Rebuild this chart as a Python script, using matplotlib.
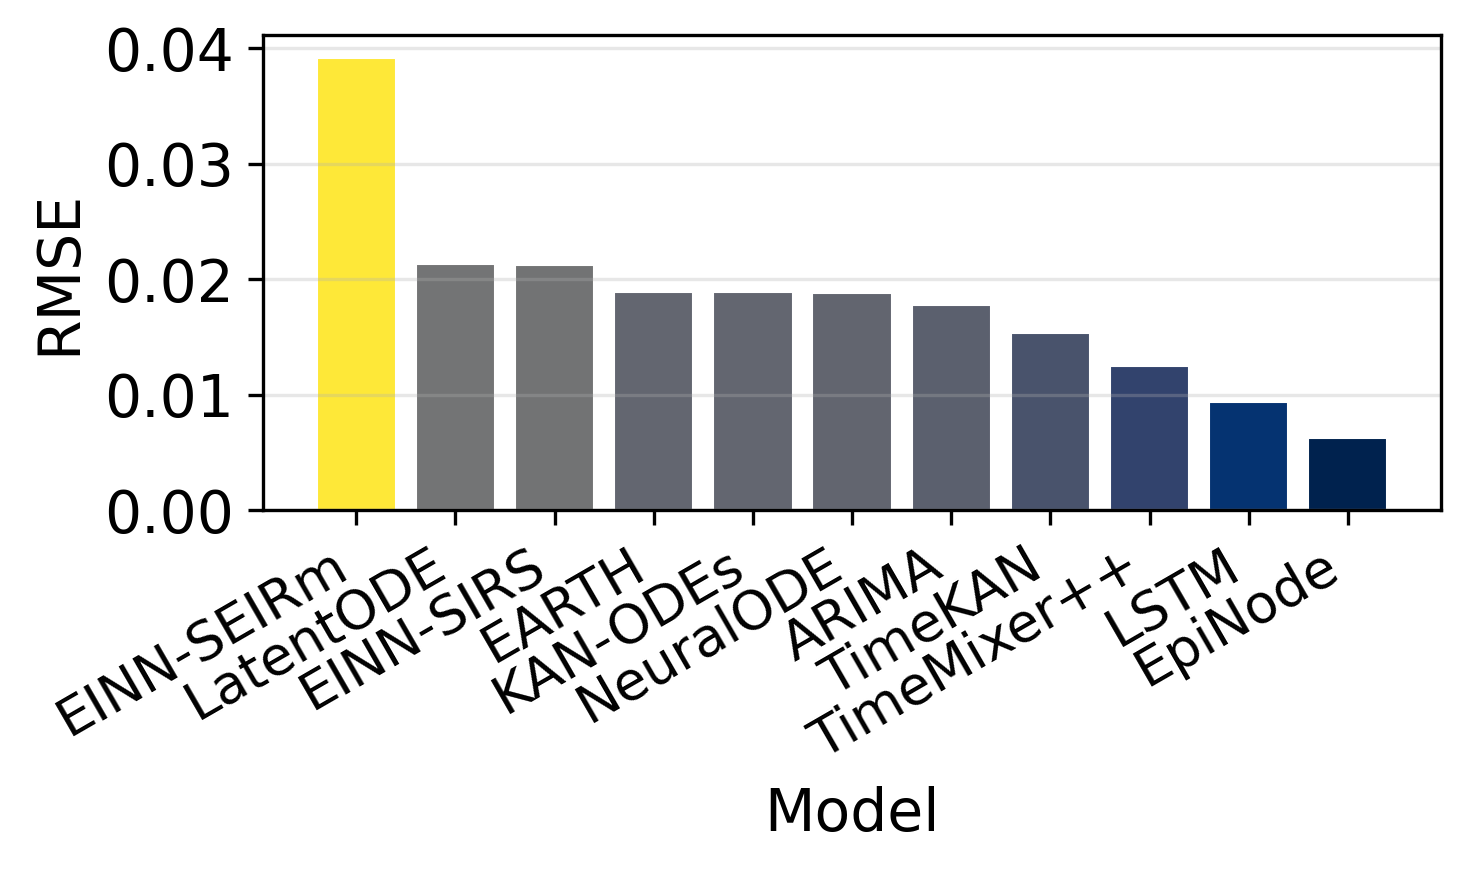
import matplotlib
matplotlib.use("Agg")
import matplotlib.pyplot as plt
import numpy as np

models = ["EINN-SEIRm", "LatentODE", "EINN-SIRS", "EARTH", "KAN-ODEs", "NeuralODE",
          "ARIMA", "TimeKAN", "TimeMixer++", "LSTM", "EpiNode"]
rmse = [0.0392, 0.0213, 0.0212, 0.0189, 0.0189, 0.0188, 0.0178, 0.0153, 0.0125, 0.0094, 0.0062]

fig = plt.figure(figsize=(4.9, 2.91), dpi=300)
ax = fig.add_axes([0.1789, 0.4158, 0.8014, 0.5441])

vals = np.array(rmse)
norm = (vals - vals.min()) / (vals.max() - vals.min())
colors = plt.cm.cividis(norm)
x = np.arange(len(models))
ax.bar(x, vals, color=colors, width=0.8, edgecolor="white", linewidth=0.5)
ax.set_xticks(x)
ax.set_xticklabels(models, rotation=30, ha="right", fontsize=13)
ax.tick_params(axis="y", labelsize=14)
ax.set_ylabel("RMSE", fontsize=14)
ax.set_xlabel("Model", fontsize=14)
ax.grid(axis="y", alpha=0.3)
ax.set_yticks([0.0, 0.01, 0.02, 0.03, 0.04])
ax.set_yticklabels(["0.00", "0.01", "0.02", "0.03", "0.04"])

fig.savefig("out.png", dpi=300)
